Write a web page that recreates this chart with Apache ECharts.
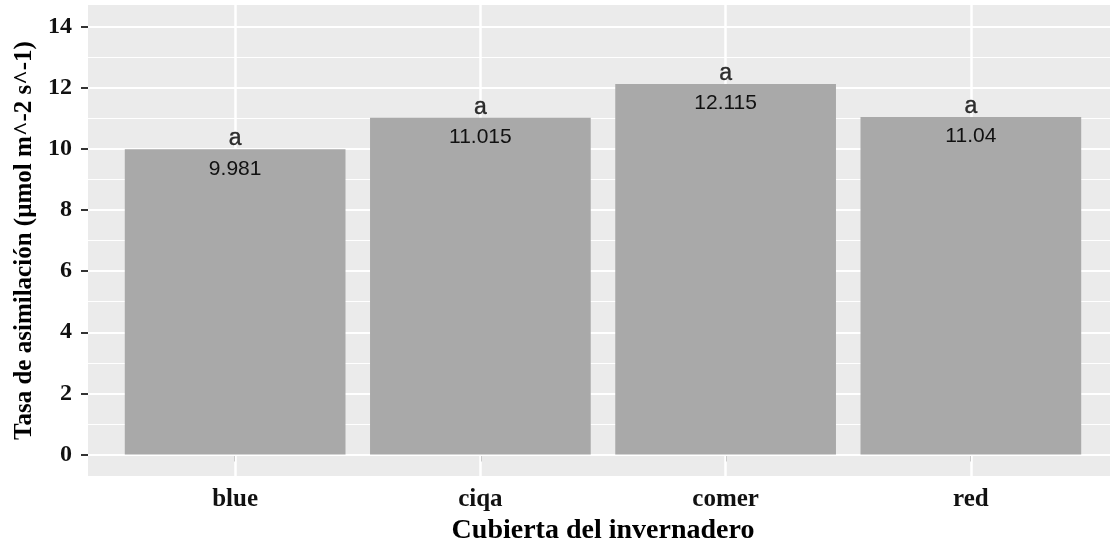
<!DOCTYPE html>
<html>
<head>
<meta charset="utf-8">
<script src="https://cdn.jsdelivr.net/npm/echarts@6/dist/echarts.min.js"></script>
<style>
  html, body { margin: 0; padding: 0; background: #ffffff; }
  #chart { width: 1110px; height: 541px; }
</style>
</head>
<body>
<div id="chart"></div>
<script>
// Greenhouse cover types and mean assimilation rate per cover
const categories = ['blue', 'ciqa', 'comer', 'red'];
const meanRate = [9.981, 11.015, 12.115, 11.04];
const groupLetters = ['a', 'a', 'a', 'a'];

// Axis ticks
const yMajorTicks = [0, 2, 4, 6, 8, 10, 12, 14];
const yMinorTicks = [1, 3, 5, 7, 9, 11, 13];
const xTicks = [1, 2, 3, 4];

// Panel extent (ggplot-style expansion around the data)
const yMin = -0.7, yMax = 14.7;
const xMin = 0.4, xMax = 4.6;
const panel = { left: 88, top: 5, width: 1030, height: 471 };
const barWidth = panel.width / (xMax - xMin) * 0.9;

const serif = '"Liberation Serif", "Times New Roman", serif';
const sans = '"Liberation Sans", Arial, sans-serif';

const chart = echarts.init(document.getElementById('chart'), null, { renderer: 'canvas' });

const gridLine = (w) => ({ color: '#ffffff', width: w, type: 'solid' });

chart.setOption({
  animation: false,
  grid: {
    left: panel.left, top: panel.top, width: panel.width, height: panel.height,
    outerBoundsMode: 'none', containLabel: false,
    show: true, backgroundColor: '#EBEBEB', borderWidth: 0
  },
  xAxis: {
    type: 'value', min: xMin, max: xMax,
    name: 'Cubierta del invernadero',
    nameLocation: 'middle', nameGap: 38,
    nameTextStyle: { fontFamily: serif, fontWeight: 'bold', fontSize: 28, color: '#000' },
    axisLine: { show: false },
    splitLine: { show: false },
    axisTick: { show: true, customValues: xTicks, length: 7, lineStyle: { color: '#333', width: 2 } },
    axisLabel: {
      customValues: xTicks, margin: 11,
      formatter: (v) => categories[Math.round(v) - 1],
      fontFamily: serif, fontWeight: 'bold', fontSize: 25, color: '#111'
    }
  },
  yAxis: {
    type: 'value', min: yMin, max: yMax,
    name: 'Tasa de asimilación (µmol m^-2 s^-1)',
    nameLocation: 'middle', nameGap: 51, nameRotate: 90,
    nameTextStyle: { fontFamily: serif, fontWeight: 'bold', fontSize: 25, color: '#000' },
    axisLine: { show: false },
    splitLine: { show: false },
    axisTick: { show: true, customValues: yMajorTicks, length: 7, lineStyle: { color: '#333', width: 2 } },
    axisLabel: {
      customValues: yMajorTicks, margin: 16,
      fontFamily: serif, fontWeight: 'bold', fontSize: 24, color: '#111'
    }
  },
  series: [
    {
      // panel grid lines, drawn beneath the bars
      type: 'line', data: [], silent: true, z: 1,
      markLine: {
        z: 1, silent: true, symbol: 'none', animation: false,
        label: { show: false },
        emphasis: { disabled: true },
        data: [
          ...yMinorTicks.map(v => ({ yAxis: v, lineStyle: gridLine(1.2) })),
          ...yMajorTicks.map(v => ({ yAxis: v, lineStyle: gridLine(2.2) })),
          ...xTicks.map(v => ({ xAxis: v, lineStyle: gridLine(2.5) }))
        ]
      }
    },
    {
      type: 'bar', z: 3,
      barWidth: barWidth,
      data: categories.map((c, i) => [i + 1, meanRate[i]]),
      itemStyle: { color: '#A9A9A9' },
      label: {
        show: true, position: 'insideTop', distance: 9,
        formatter: (p) => String(meanRate[p.dataIndex]),
        fontFamily: sans, fontSize: 21, color: '#111'
      }
    },
    {
      type: 'scatter', z: 4, symbolSize: 0,
      data: categories.map((c, i) => [i + 1, meanRate[i]]),
      label: {
        show: true, position: 'top', distance: -1,
        formatter: (p) => groupLetters[p.dataIndex],
        fontFamily: sans, fontSize: 23, fontWeight: 500, color: '#000',
        textBorderColor: '#000', textBorderWidth: 0.4
      }
    }
  ]
});
</script>
</body>
</html>
